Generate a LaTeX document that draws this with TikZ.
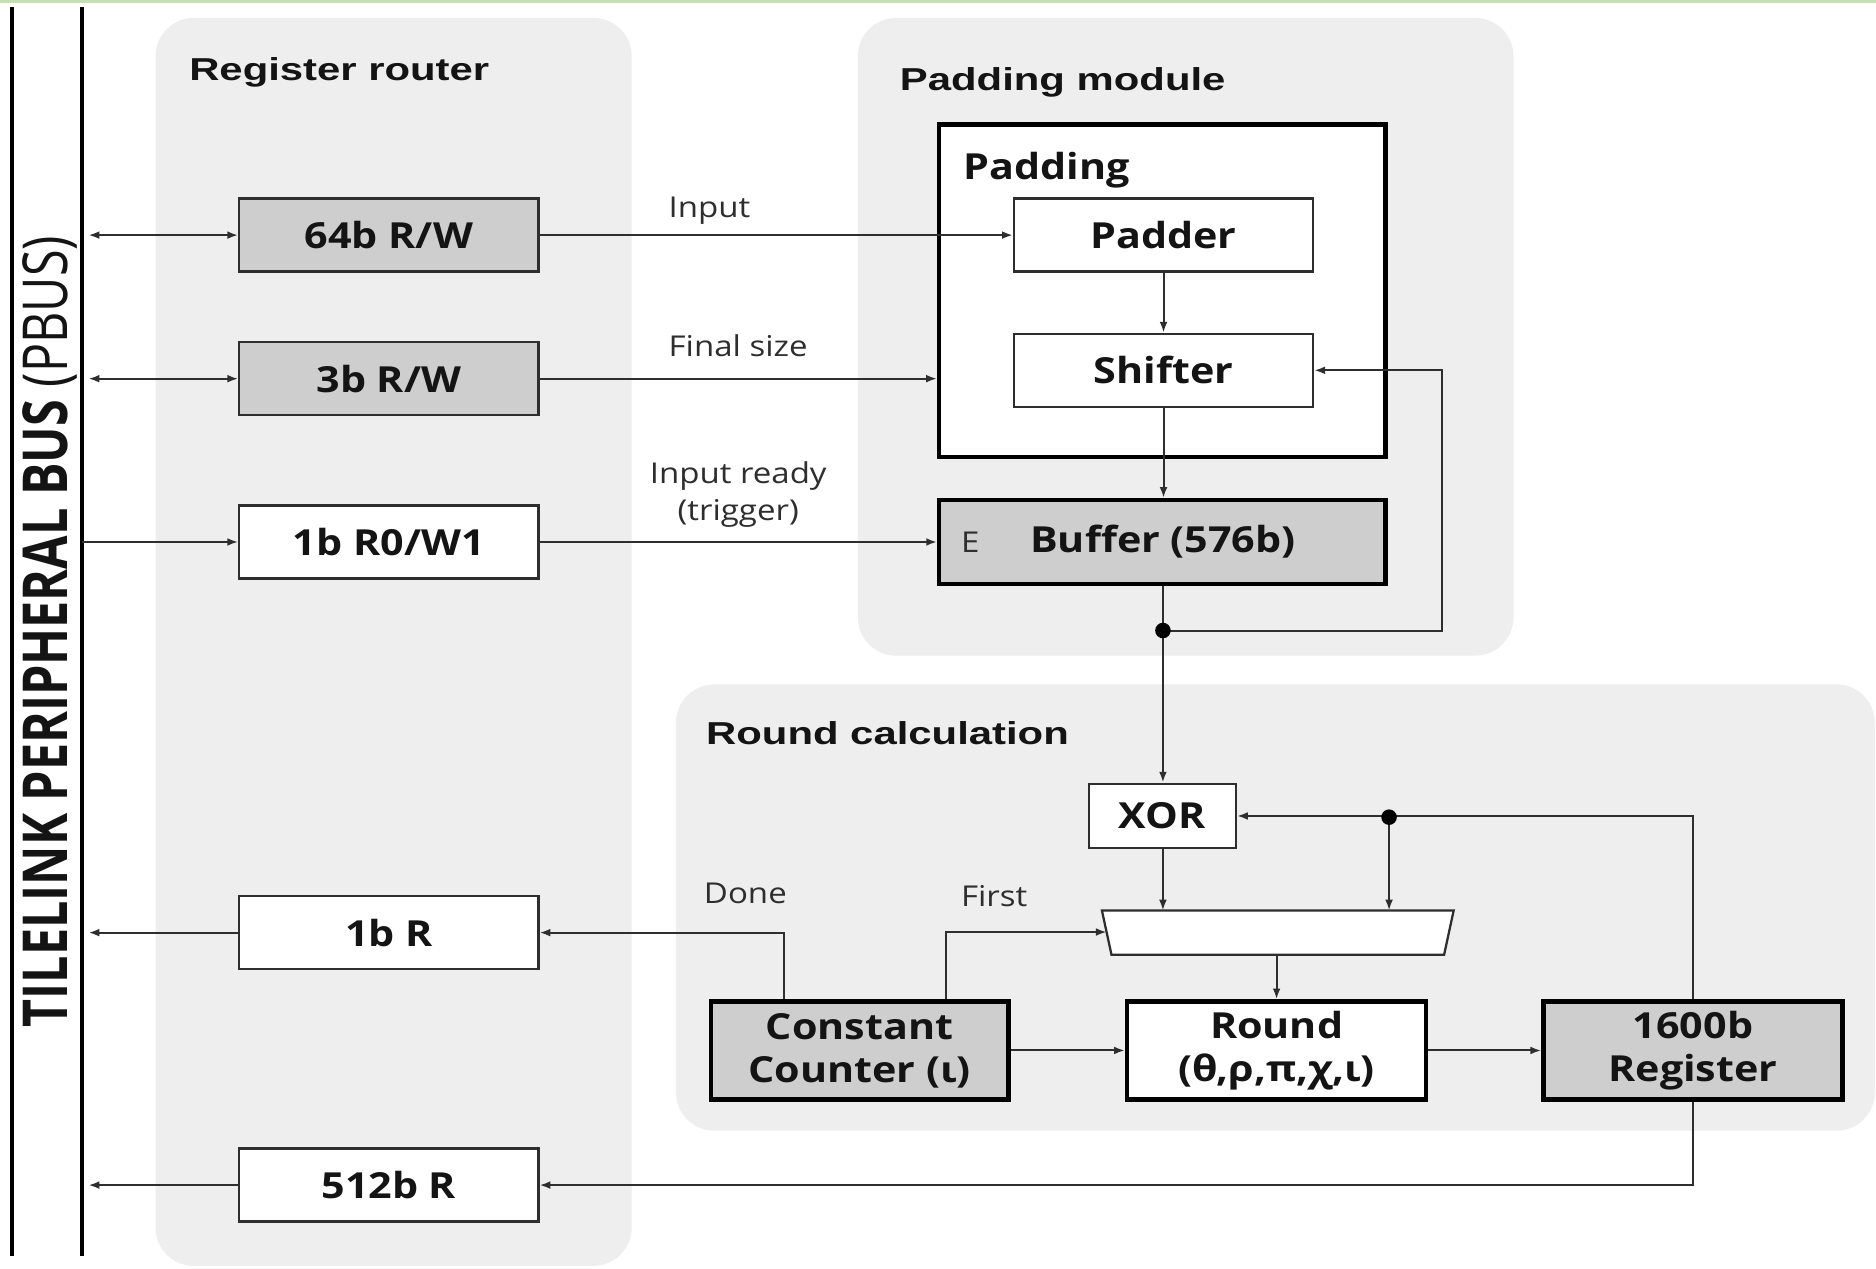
\documentclass[tikz,border=0pt]{standalone}
\usepackage{fontspec}
\setmainfont{Open Sans}[FakeStretch=1.15]
\newfontfamily\titlefont{Liberation Sans}[FakeStretch=1.32]
\newfontfamily\busfont{Open Sans}
\usetikzlibrary{arrows.meta,calc}

\definecolor{panelgray}{RGB}{238,238,238}
\definecolor{boxgray}{RGB}{206,206,206}
\definecolor{wire}{RGB}{46,46,46}
\definecolor{ink}{RGB}{20,20,20}
\definecolor{topgreen}{RGB}{197,224,180}

\tikzset{
  panel/.style={fill=panelgray, rounded corners=32pt},
  paneltitle/.style={anchor=base west, inner sep=0pt, text=ink,
    font=\titlefont\bfseries\fontsize{26.5}{30}\selectfont},
  regbox/.style={draw=wire, line width=1.9pt, minimum width=250pt, minimum height=61pt,
    inner sep=0pt, text=ink, font=\bfseries\fontsize{30}{35}\selectfont},
  heavybox/.style={draw=black, line width=3.6pt, inner sep=0pt, text=ink, align=center,
    font=\bfseries\fontsize{30}{36}\selectfont},
  siglabel/.style={anchor=base, inner sep=0pt, text=wire,
    font=\fontsize{24}{27}\selectfont},
  wireline/.style={draw=wire, line width=1.7pt},
  tip/.style={wireline, -{Latex[length=9pt,width=6.5pt]}},
  bitip/.style={wireline, {Latex[length=9pt,width=6.5pt]}-{Latex[length=9pt,width=6.5pt]}},
  joint/.style={fill=black}
}

\begin{document}
\begin{tikzpicture}[x=1pt,y=-1pt]
\useasboundingbox (0,0) rectangle (1568,1060);
\fill[white] (0,0) rectangle (1568,1060);
\fill[topgreen] (0,0) rectangle (1568,2.5);

% background panels
\fill[panel] (130,15) rectangle (528,1058);
\fill[panel] (717,15) rectangle (1265,548);
\fill[panel] (565,572) rectangle (1567,945);

\node[paneltitle] (t-router) at (158,67) {Register router};
\node[paneltitle] (t-padmod) at (752,76) {Padding module};
\node[paneltitle] (t-round) at (590,622) {Round calculation};

% peripheral bus
\coordinate (busLtop) at (10,6);
\coordinate (busLbot) at (10,1050);
\coordinate (busRtop) at (68.5,6);
\coordinate (busRbot) at (68.5,1050);
\coordinate (busTap) at (74,0);
\draw[black, line width=3.4pt] (busLtop) -- (busLbot);
\draw[black, line width=3.4pt] (busRtop) -- (busRbot);
\node[rotate=90, inner sep=0pt, text=ink] (busname) at (42,528)
  {\scalebox{1}[1.28]{\busfont\fontsize{40.5}{44}\selectfont\bfseries TILELINK PERIPHERAL BUS \mdseries(PBUS)}};

% register router
\node[regbox, fill=boxgray] (rw64) at (325,196.5) {64b R/W};
\node[regbox, fill=boxgray] (rw3)  at (325,316.5) {3b R/W};
\node[regbox, fill=white]   (w1)   at (325,453)   {1b R0/W1};
\node[regbox, fill=white]   (r1)   at (325,779.5) {1b R};
\node[regbox, fill=white]   (r512) at (325,990.5) {512b R};

% padding module
\node[draw=black, line width=3.8pt, fill=white, minimum width=373pt, minimum height=278pt,
  inner sep=0pt] (pad) at (971.5,243) {};
\node[anchor=base west, inner sep=0pt, text=ink, font=\bfseries\fontsize{30}{35}\selectfont]
  (padname) at (805,150) {Padding};
\node[regbox, fill=white] (padder)  at (972.5,196.5) {Padder};
\node[regbox, fill=white] (shifter) at (972.5,309.5) {Shifter};
\node[heavybox, fill=boxgray, minimum width=373pt, minimum height=70pt] (buf) at (971.5,453) {};
\node[inner sep=0pt, text=ink, font=\bfseries\fontsize{30}{35}\selectfont] (bufname) at (972,453) {Buffer (576b)};
\node[inner sep=0pt, text=wire, font=\fontsize{24}{27}\selectfont] (enable) at (811,453) {E};

% round calculation
\node[regbox, fill=white, minimum width=123pt, minimum height=54pt] (xor) at (971.5,682) {XOR};
\coordinate (muxTL) at (921,761);
\coordinate (muxTR) at (1215,761);
\coordinate (muxBR) at (1207,798);
\coordinate (muxBL) at (929,798);
\filldraw[fill=white, draw=wire, line width=1.9pt] (muxTL) -- (muxTR) -- (muxBR) -- (muxBL) -- cycle;
\coordinate (muxInA) at (972,761);
\coordinate (muxInB) at (1161,761);
\coordinate (muxSel) at (925,779);
\coordinate (muxOut) at (1067,798);

\node[heavybox, fill=boxgray, minimum width=249pt, minimum height=82pt] (cc) at (718.5,878) {Constant\\Counter (ι)};
\node[heavybox, fill=white, minimum width=250pt, minimum height=82pt] (rnd) at (1067,878) {Round\\(θ,ρ,π,χ,ι)};
\node[heavybox, fill=boxgray, minimum width=250pt, minimum height=82pt] (reg) at (1415,878) {1600b\\Register};

% bus connections
\draw[bitip] (rw64.west -| busTap) -- (rw64.west);
\draw[bitip] (rw3.west -| busTap) -- (rw3.west);
\draw[tip] (w1.west -| busRtop) -- (w1.west);
\draw[tip] (r1.west) -- (r1.west -| busTap);
\draw[tip] (r512.west) -- (r512.west -| busTap);

% router to padding module
\draw[tip] (rw64.east) -- (padder.west);
\draw[tip] (rw3.east) -- (rw3.east -| pad.west);
\draw[tip] (w1.east) -- (buf.west);
\node[siglabel] (l-input) at (593,182) {Input};
\node[siglabel] (l-final) at (617,298) {Final size};
\node[siglabel] (l-ready) at (617,404) {Input ready};
\node[siglabel] (l-trig) at (617,435) {(trigger)};

\draw[tip] (padder.south) -- (shifter.north);
\draw[tip] (shifter.south) -- (shifter.south |- buf.north);

% buffer to xor, feedback to shifter
\coordinate (split) at (972,527);
\coordinate (fbCorner) at (1205,527);
\draw[tip] (buf.south -| split) -- (split) -- (split |- xor.north);
\draw[tip] (split) -- (fbCorner) |- (shifter.east);
\fill[joint] (split) circle (6.5pt);

% state feedback
\coordinate (stateSplit) at (1161,683);
\draw[tip] (reg.north) |- (xor.east);
\draw[tip] (stateSplit) -- (muxInB);
\fill[joint] (stateSplit) circle (6.5pt);
\draw[tip] (xor.south -| muxInA) -- (muxInA);
\draw[tip] (muxOut) -- (muxOut |- rnd.north);

\draw[tip] (cc.east) -- (rnd.west);
\draw[tip] (rnd.east) -- (reg.west);

% counter outputs
\coordinate (doneX) at (655,0);
\coordinate (firstX) at (791,0);
\draw[tip] (cc.north -| doneX) |- (r1.east);
\draw[tip] (cc.north -| firstX) |- (muxSel);
\node[siglabel] (l-done) at (623,755) {Done};
\node[siglabel] (l-first) at (831,758) {First};

% digest readout
\draw[tip] (reg.south) |- (r512.east);
\end{tikzpicture}
\end{document}
